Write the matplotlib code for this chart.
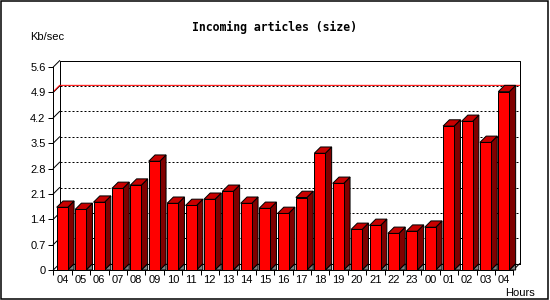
import matplotlib
matplotlib.use("Agg")
import matplotlib.pyplot as plt
from matplotlib.patches import Polygon, Rectangle

# hourly throughput
hours = ["04", "05", "06", "07", "08", "09", "10", "11", "12", "13", "14", "15",
         "16", "17", "18", "19", "20", "21", "22", "23", "00", "01", "02", "03", "04"]
kbps = [1.73, 1.67, 1.87, 2.25, 2.34, 3.00, 1.84, 1.78, 1.95, 2.17, 1.84, 1.70,
        1.56, 2.00, 3.22, 2.39, 1.12, 1.23, 1.01, 1.07, 1.18, 3.97, 4.10, 3.52, 4.92]
yticks = [0, 0.7, 1.4, 2.1, 2.8, 3.5, 4.2, 4.9, 5.6]
ytick_labels = ["0", "0.7", "1.4", "2.1", "2.8", "3.5", "4.2", "4.9", "5.6"]

W, H = 550, 300
LW = 0.72          # 1 px at 100 dpi
DEPTH = 6.3        # 3d depth in px

fig = plt.figure(figsize=(W / 100, H / 100), dpi=100)

# pixel-space overlay for frame and free text
bg = fig.add_axes([0, 0, 1, 1])
bg.set_xlim(0, W)
bg.set_ylim(H, 0)
bg.axis("off")
bg.add_patch(Rectangle((0.8, 0.6), 547.4, 297.9, fill=False, ec="black", lw=1.1))
bg.text(274, 27, "Incoming articles (size)", ha="center", va="center",
        family="DejaVu Sans Mono", weight="bold", fontsize=8.3)
bg.text(30, 37.5, "Kb/sec", ha="left", va="center", family="Liberation Sans", fontsize=8)
bg.text(505, 292.5, "Hours", ha="left", va="center", family="Liberation Sans", fontsize=8)

# main plot area (front plane)
ax_l, ax_b, ax_w, ax_h = 53.3, 30, 460, 203
ax = fig.add_axes([ax_l / W, ax_b / H, ax_w / W, ax_h / H])
ax.set_facecolor("none")
n = len(kbps)
ymax = 5.6
ax.set_xlim(0, n)
ax.set_ylim(0, ymax)
dx = DEPTH / (ax_w / n)
dy = DEPTH / (ax_h / ymax)

for s in ["top", "right"]:
    ax.spines[s].set_visible(False)
for s in ["left", "bottom"]:
    ax.spines[s].set_linewidth(LW)

ax.set_yticks(yticks)
ax.set_yticklabels(ytick_labels, family="Liberation Sans", fontsize=8)
ax.set_xticks(range(n + 1))
ax.set_xticklabels([])
ax.set_xticks([k + 0.5 for k in range(n)], minor=True)
ax.set_xticklabels(hours, minor=True, family="Liberation Sans", fontsize=8)
ax.tick_params(axis="both", which="major", length=3.6, width=LW, direction="out")
ax.tick_params(axis="y", pad=2.0)
ax.tick_params(axis="x", which="minor", length=0, pad=3.6)

# back wall outline
k = dict(color="black", lw=LW, clip_on=False, zorder=1)
ax.plot([dx, dx, n + dx, n + dx], [dy, ymax + dy, ymax + dy, dy], **k)
ax.plot([dx, n + dx], [dy, dy], **k)
ax.plot([0, dx], [ymax, ymax + dy], **k)
ax.plot([0, dx], [0, dy], **k)
ax.plot([n, n + dx], [0, dy], **k)

# grid lines on the back wall
for v in yticks[1:-1]:
    ax.plot([0, dx], [v, v + dy], **k)
    ax.plot([dx, n + dx], [v + dy, v + dy], color="black", lw=LW,
            dashes=(2, 2), clip_on=False, zorder=1)

# max line
top = max(kbps)
ax.plot([0, dx, n + dx], [top, top + dy, top + dy], color="red", lw=LW,
        clip_on=False, zorder=1.5)

# 3d bars
off, bw = 0.185, 0.6
for i, v in enumerate(kbps):
    xl = i + off
    xr = xl + bw
    z = 3 + i * 0.01
    ax.add_patch(Polygon([(xr, 0), (xr + dx, dy), (xr + dx, 0)], closed=True,
                         fc="#808080", ec="black", lw=LW, clip_on=False, zorder=z))
    ax.add_patch(Polygon([(xr, 0), (xr, v), (xr + dx, v + dy), (xr + dx, dy)], closed=True,
                         fc="#800000", ec="black", lw=LW, clip_on=False, zorder=z))
    ax.add_patch(Polygon([(xl, v), (xr, v), (xr + dx, v + dy), (xl + dx, v + dy)], closed=True,
                         fc="#c80000", ec="black", lw=LW, clip_on=False, zorder=z))
    ax.add_patch(Rectangle((xl, 0), bw, v, fc="#ff0000", ec="black", lw=LW,
                           clip_on=False, zorder=z))

fig.savefig("out.png", dpi=100)
